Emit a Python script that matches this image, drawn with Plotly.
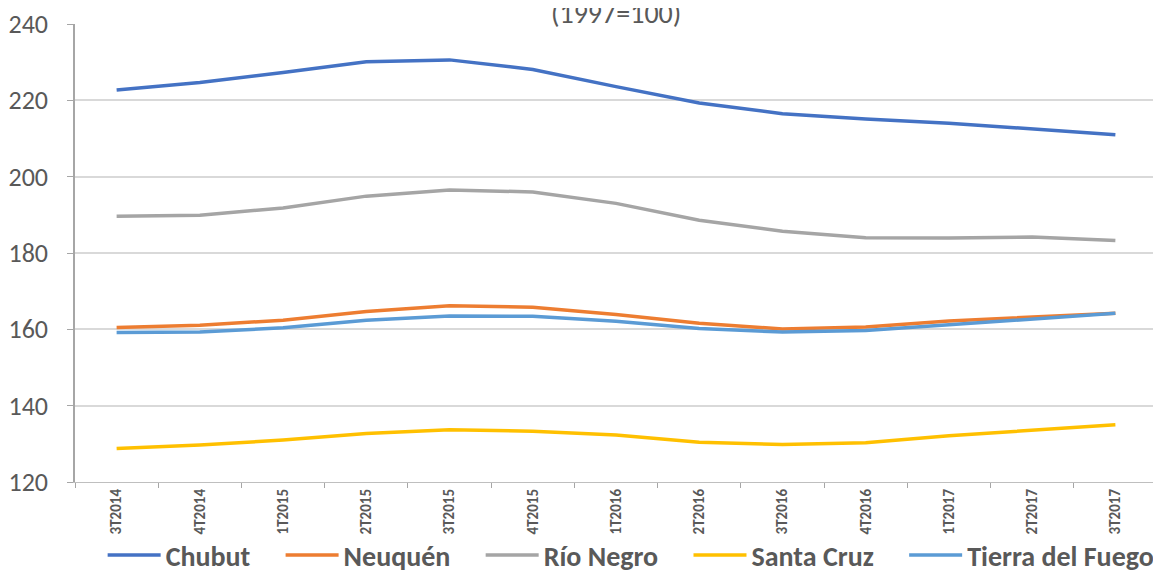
import plotly.graph_objects as go

quarters = ["3T2014", "4T2014", "1T2015", "2T2015", "3T2015", "4T2015", "1T2016",
            "2T2016", "3T2016", "4T2016", "1T2017", "2T2017", "3T2017"]

chubut = [222.7, 224.7, 227.3, 230.1, 230.6, 228.1, 223.6, 219.3, 216.5, 215.1, 214.0, 212.6, 211.0]
neuquen = [160.5, 161.1, 162.4, 164.7, 166.2, 165.8, 163.9, 161.6, 160.1, 160.6, 162.2, 163.3, 164.2]
rio_negro = [189.6, 189.9, 191.8, 194.9, 196.5, 196.0, 193.0, 188.6, 185.7, 184.0, 183.9, 184.2, 183.3]
santa_cruz = [128.8, 129.7, 131.0, 132.7, 133.7, 133.3, 132.3, 130.4, 129.8, 130.3, 132.1, 133.6, 135.0]
tierra_del_fuego = [159.2, 159.3, 160.4, 162.4, 163.5, 163.4, 162.1, 160.2, 159.3, 159.7, 161.2, 162.6, 164.2]

series = [
    ("Chubut", chubut, "#4472C4"),
    ("Neuquén", neuquen, "#ED7D31"),
    ("Río Negro", rio_negro, "#A5A5A5"),
    ("Santa Cruz", santa_cruz, "#FFC000"),
    ("Tierra del Fuego", tierra_del_fuego, "#5B9BD5"),
]

FONT = "Carlito, Liberation Sans Narrow, Open Sans, sans-serif"
GRAY = "#595959"
PAD = "\u00a0" * 4  # extra spacing between legend entries

fig = go.Figure()
for i, (name, vals, color) in enumerate(series):
    label = name + (PAD if i < len(series) - 1 else "")
    fig.add_trace(go.Scatter(x=quarters, y=vals, name=label, mode="lines",
                             hovertemplate=name + ": %{y}<extra></extra>",
                             line=dict(color=color, width=3.5)))

fig.update_layout(
    width=1161, height=573,
    margin=dict(l=67, r=12, t=16, b=99),
    paper_bgcolor="white", plot_bgcolor="white",
    font=dict(family=FONT, color=GRAY),
    showlegend=True,
    legend=dict(orientation="h", xref="paper", x=0.514, xanchor="center",
                yref="container", y=0.045, yanchor="middle",
                bgcolor="rgba(0,0,0,0)",
                font=dict(family=FONT, size=28, color=GRAY, weight="bold"),
                itemwidth=53),
    annotations=[dict(text="(1997=100)", xref="paper", yref="paper", x=0.5, y=1.0,
                      xanchor="center", yanchor="middle", yshift=11, showarrow=False,
                      font=dict(family=FONT, size=28, color=GRAY))],
)

fig.update_xaxes(
    type="category", range=[-0.5, len(quarters) - 0.5], automargin=False,
    tickangle=-90, tickson="boundaries",
    ticks="outside", ticklen=5, tickcolor="#A6A6A6",
    showline=True, linecolor="#BFBFBF", linewidth=1,
    showgrid=False,
    tickfont=dict(family=FONT, size=15, color=GRAY, weight="bold"),
)
fig.update_yaxes(
    range=[120, 240], dtick=20, automargin=False,
    ticks="outside", ticklen=6, tickcolor="#A6A6A6",
    showline=True, linecolor="#A6A6A6", linewidth=1.5,
    showgrid=True, gridcolor="#D9D9D9", gridwidth=1.5,
    zeroline=False,
    tickfont=dict(family=FONT, size=26, color=GRAY),
    ticklabelstandoff=14,
)

fig.write_html("out.html")
